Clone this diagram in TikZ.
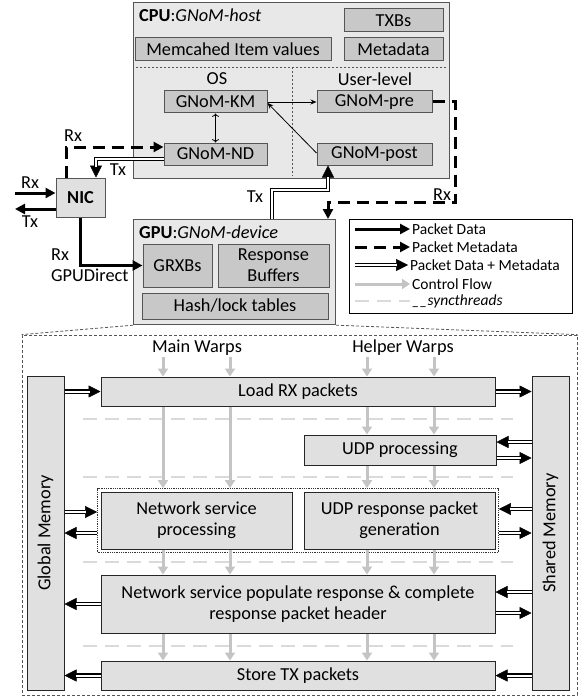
\documentclass[tikz,border=0pt]{standalone}
\usepackage{fontspec}
\setmainfont{Carlito}
\usepackage{xcolor}
\definecolor{HostFill}{RGB}{232,232,232}
\definecolor{BlockFill}{RGB}{200,200,200}
\definecolor{StageFill}{RGB}{224,224,224}
\definecolor{EdgeGray}{RGB}{85,85,85}
\definecolor{CtrlGray}{RGB}{196,196,196}
\definecolor{SyncGray}{RGB}{218,218,218}
\usetikzlibrary{arrows.meta, positioning, calc, fit}
\newcommand{\fmain}{\fontsize{18.3}{21}\selectfont}
\newcommand{\fleg}{\fontsize{15.5}{18}\selectfont}
\tikzset{
  % big containers (CPU / GPU)
  hostbox/.style={
    rectangle, draw=EdgeGray, fill=HostFill, line width=1.2pt,
    inner sep=0pt
  },
  % darker boxes inside the containers
  block/.style={
    rectangle, draw=EdgeGray, fill=BlockFill, line width=1pt,
    align=center, font=\fmain, inner sep=0pt
  },
  % kernel stages in the lower panel
  stage/.style={
    rectangle, draw=black!85, fill=StageFill, line width=1pt,
    align=center, font=\fmain, inner sep=0pt
  },
  plain/.style={font=\fmain, inner sep=1pt, align=left},
  title/.style={font=\fmain, inner sep=0pt},
  legtext/.style={font=\fleg, inner sep=2pt, anchor=west},
  % Arrows
  pdata/.style={-{Triangle[length=10pt,width=10pt]}, line width=3pt},
  pmeta/.style={pdata, dash pattern=on 12pt off 7pt},
  % double line: black stroke with a white core laid over it
  dbl/.style={-{Triangle[length=12pt,width=12pt,line width=0.5pt]}, line width=4.6pt,
    postaction={draw=white, line width=2pt, -, shorten >=11pt}},
  ctrl/.style={-{Triangle[length=8pt,width=10pt]}, line width=3pt, CtrlGray},
  sync/.style={line width=2.5pt, SyncGray, dash pattern=on 14pt off 8pt},
  thinarr/.style={-{Stealth[length=6pt,width=5pt]}, line width=0.8pt},
  sep/.style={EdgeGray, line width=0.8pt, dash pattern=on 2pt off 2pt},
  zoomline/.style={EdgeGray, line width=0.8pt, dash pattern=on 3pt off 2pt},
  group/.style={draw=black!80, line width=0.8pt, densely dotted, inner sep=3pt},
}

\begin{document}
\begin{tikzpicture}[x=1pt, y=-1pt]
  \useasboundingbox (0,0) rectangle (580,698);

  %% CPU: GNoM-host
  \node[hostbox, anchor=north west, minimum width=316pt, minimum height=176pt]
    (cpu) at (133,2) {};
  \node[title, anchor=west] (cputitle) at (139,15) {\textbf{CPU}:\textit{GNoM-host}};
  \node[block, minimum width=99pt, minimum height=23pt] (txb) at (393.5,20.5) {TXBs};
  \node[block, minimum width=99pt, minimum height=23pt, below=5pt of txb] (meta) {Metadata};
  \node[block, minimum width=196pt, minimum height=23pt, left=12pt of meta]
    (memc) {Memcahed Item values};

  \draw[sep] (136,67) -- (446,67);
  \draw[sep] (292,67) -- (292,176);
  \node[plain] (os) at (217,79) {OS};
  \node[plain] (user) at (375,79) {User-level};

  \node[block, minimum width=103pt, minimum height=22pt] (km) at (215.5,102) {GNoM-KM};
  \node[block, minimum width=103pt, minimum height=22pt, below=29pt of km] (nd) {GNoM-ND};
  \node[block, minimum width=115pt, minimum height=22pt] (pre) at (374.5,102) {GNoM-pre};
  \node[block, minimum width=115pt, minimum height=22pt, below=29pt of pre] (post) {GNoM-post};

  \draw[thinarr, <->] (km) -- (nd);
  \draw[thinarr] (km.east) -- (pre.west);
  \draw[thinarr] ([yshift=1pt]post.west) -- ([yshift=-1pt]km.east);

  %% NIC
  \node[stage, draw=EdgeGray, minimum width=49pt, minimum height=39pt]
    (nic) at (80.5,197.5) {\textbf{NIC}};
  \coordinate (rxin) at (15,193);
  \coordinate (txout) at (15,209);
  \draw[pdata] (rxin) -- (rxin -| nic.west);
  \draw[pdata] (nic.west |- txout) -- (txout);
  \node[plain] (rxlbl) at (30,183) {Rx};
  \node[plain] (txlbl) at (30,222) {Tx};

  %% GPU: GNoM-device
  \node[hostbox, anchor=north west, minimum width=202pt, minimum height=105pt]
    (gpu) at (133,219) {};
  \node[title, anchor=west] (gputitle) at (139,232) {\textbf{GPU}:\textit{GNoM-device}};
  \node[block, minimum width=69pt, minimum height=43pt] (grxb) at (177.5,265.5) {GRXBs};
  \node[block, minimum width=111pt, minimum height=43pt, right=5pt of grxb]
    (resp) {Response\\Buffers};
  \node[block, minimum width=186pt, minimum height=26pt] (hash) at (235,306) {Hash/lock tables};

  %% Host <-> NIC <-> device paths
  \draw[pmeta] ([xshift=-14.5pt]nic.north) |- ([yshift=7pt]nd.west);
  \node[plain] (rxnd) at (73,136) {Rx};
  \draw[dbl] ([yshift=-5pt]nd.west) -| ([xshift=15.5pt]nic.north);
  \node[plain] (txnd) at (118,170) {Tx};
  \draw[pdata] (nic.south) |- (grxb.west);
  \node[plain, anchor=west, inner sep=0pt] (gpud) at (51,265) {Rx\\GPUDirect};
  \draw[dbl] (272,0 |- gpu.north) |- (328,190) -- (328,0 |- post.south);
  \node[plain] (txpost) at (255,197) {Tx};
  \draw[pmeta] (pre.east) -| (455,202) -| (328,0 |- gpu.north);
  \node[plain] (rxpre) at (442,195) {Rx};

  %% Legend
  \node[rectangle, draw=black, line width=0.8pt, fill=white, anchor=north west,
        minimum width=223pt, minimum height=94pt] (legend) at (349,219) {};
  \node[legtext] (lg1) at (410,229) {Packet Data};
  \node[legtext] (lg2) at (410,247) {Packet Metadata};
  \node[legtext] (lg3) at (408,265) {Packet Data + Metadata};
  \node[legtext] (lg4) at (410,284) {Control Flow};
  \node[legtext] (lg5) at (410,301) {\textit{\_\_syncthreads}};
  \draw[pdata] (355,0 |- lg1.west) -- (lg1.west);
  \draw[pmeta] (355,0 |- lg2.west) -- (lg2.west);
  \draw[dbl] (355,0 |- lg3.west) -- (lg3.west);
  \draw[ctrl] (355,0 |- lg4.west) -- (lg4.west);
  \draw[sync] (355,0 |- lg5.west) -- (lg5.west);

  %% Lower panel: kernel pipeline
  \node[rectangle, draw=EdgeGray, line width=0.8pt, dash pattern=on 3pt off 2pt,
        minimum width=555pt, minimum height=360pt] (panel) at (299.5,515) {};
  \draw[zoomline] (gpu.south west) -- (panel.north west);
  \draw[zoomline] (gpu.south east) -- (panel.north east);

  \node[stage, minimum width=37pt, minimum height=314pt,
        label={[rotate=90, font=\fmain]center:Global Memory}] (gmem) at (45.5,533) {};
  \node[stage, minimum width=37pt, minimum height=314pt,
        label={[rotate=90, font=\fmain]center:Shared Memory}] (smem) at (550.5,533) {};

  \node[plain] (main) at (197,348) {Main Warps};
  \node[plain] (helper) at (403,348) {Helper Warps};

  \foreach \y in {419,477,562,646}
    \draw[sync] (83,\y) -- (513,\y);

  \node[stage, minimum width=394pt, minimum height=29pt] (load) at (298,391.5) {Load RX packets};
  \node[stage, minimum width=192pt, minimum height=30pt] (udpp) at (400,450) {UDP processing};
  \node[stage, minimum width=191pt, minimum height=57pt] (nsp) at (196.5,520.5)
    {Network service\\processing};
  \node[stage, minimum width=191pt, minimum height=57pt] (udpr) at (399.5,520.5)
    {UDP response packet\\generation};
  \node[group, fit=(nsp)(udpr)] (pair) {};
  \node[stage, minimum width=394pt, minimum height=58pt] (fill) at (298,604)
    {Network service populate response \& complete\\response packet header};
  \node[stage, minimum width=394pt, minimum height=29pt] (store) at (298,675.5) {Store TX packets};

  %% Control flow
  \foreach \x in {163,230} {
    \draw[ctrl] (main.south -| \x,0) -- (\x,0 |- load.north);
    \draw[ctrl] (\x,0 |- load.south) -- (\x,0 |- pair.north);
    \draw[ctrl] (\x,0 |- nsp.south) -- (\x,0 |- fill.north);
    \draw[ctrl] (\x,0 |- fill.south) -- (\x,0 |- store.north);
  }
  \foreach \x in {367,434} {
    \draw[ctrl] (helper.south -| \x,0) -- (\x,0 |- load.north);
    \draw[ctrl] (\x,0 |- load.south) -- (\x,0 |- udpp.north);
    \draw[ctrl] (\x,0 |- udpp.south) -- (\x,0 |- pair.north);
    \draw[ctrl] (\x,0 |- udpr.south) -- (\x,0 |- fill.north);
    \draw[ctrl] (\x,0 |- fill.south) -- (\x,0 |- store.north);
  }

  %% Memory traffic
  \draw[dbl] (gmem.east |- load.west) -- (load.west);
  \draw[dbl] (load.east) -- (smem.west |- load.east);
  \draw[dbl] (gmem.east |- 0,512) -- (pair.west |- 0,512);
  \draw[dbl] (pair.west |- 0,533) -- (gmem.east |- 0,533);
  \draw[dbl] (fill.west) -- (gmem.east |- fill.west);
  \draw[dbl] (store.west) -- (gmem.east |- store.west);
  \draw[dbl] (smem.west |- 0,442) -- (udpp.east |- 0,442);
  \draw[dbl] (udpp.east |- 0,458) -- (smem.west |- 0,458);
  \draw[dbl] (smem.west |- 0,509) -- (pair.east |- 0,509);
  \draw[dbl] (pair.east |- 0,533) -- (smem.west |- 0,533);
  \draw[dbl] (smem.west |- 0,592) -- (fill.east |- 0,592);
  \draw[dbl] (fill.east |- 0,613) -- (smem.west |- 0,613);
  \draw[dbl] (smem.west |- store.east) -- (store.east);

\end{tikzpicture}
\end{document}
